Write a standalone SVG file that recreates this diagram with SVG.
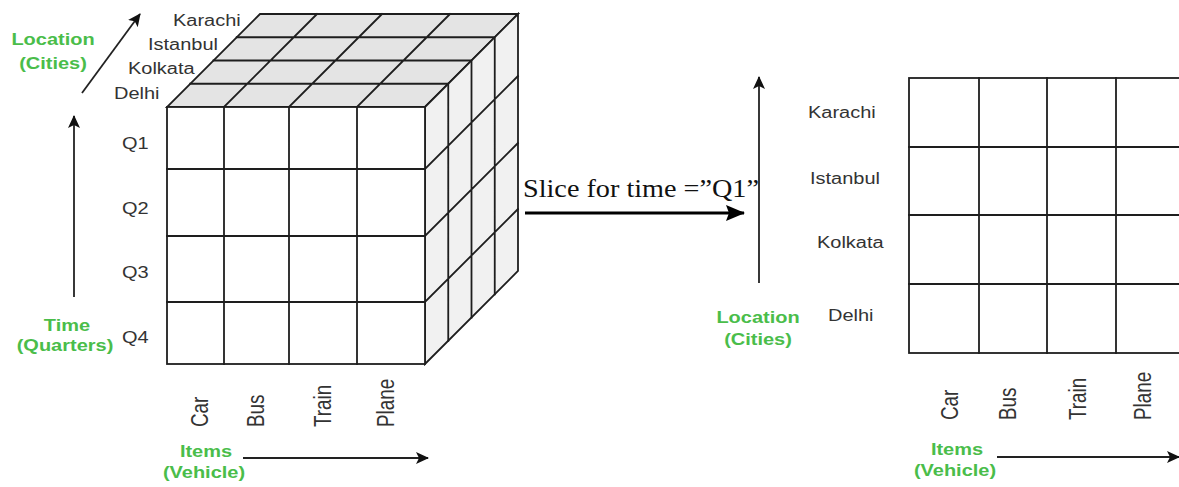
<svg xmlns="http://www.w3.org/2000/svg" width="1179" height="487" viewBox="0 0 1179 487">
<defs>
<style>
.ln{stroke:#1e1e1e;stroke-width:1.8;fill:none;stroke-linecap:square}
.top{fill:#e4e4e4;stroke:#1e1e1e;stroke-width:1.8}
.side{fill:#f1f1f1;stroke:#1e1e1e;stroke-width:1.8}
.front{fill:#ffffff;stroke:#1e1e1e;stroke-width:1.8}
.lbl{font-family:"Liberation Sans",Arial,sans-serif;font-size:20px;fill:#333333}
.rot{font-family:"Liberation Sans",Arial,sans-serif;font-size:23px;fill:#333333}
.grn{font-family:"Liberation Sans",Arial,sans-serif;font-size:20px;font-weight:bold;fill:#4abd4a;text-anchor:middle}
.ser{font-family:"Liberation Serif","Times New Roman",serif;font-size:26px;fill:#111111}
.ax{stroke:#222222;stroke-width:1.8;fill:none}
.big{stroke:#000000;stroke-width:3.2;fill:none}
</style>
<marker id="ah" markerUnits="userSpaceOnUse" markerWidth="14" markerHeight="12" refX="12" refY="6" orient="auto">
<path d="M0,0 L13,6 L0,12 L3,6 Z" fill="#111111"/>
</marker>
<marker id="ahb" markerUnits="userSpaceOnUse" markerWidth="20" markerHeight="16" refX="18" refY="8" orient="auto">
<path d="M0,0 L19,8 L0,16 L3,8 Z" fill="#000000"/>
</marker>
</defs>
<rect width="1179" height="487" fill="#ffffff"/>

<g id="cube">
<polygon class="top" points="167,107 425,107 518,14 260,14"/>
<polygon class="side" points="425,107 518,14 518,271 425,364"/>
<rect class="front" x="167" y="107" width="258" height="257"/>
<path class="ln" d="M190.25,83.75H448.25 M213.5,60.5H471.5 M236.75,37.25H494.75
M224,107L317,14 M289,107L382,14 M357,107L450,14
M448.25,83.75V340.75 M471.5,60.5V317.5 M494.75,37.25V294.25
M425,169L518,76 M425,236L518,143 M425,302L518,209
M224,107V364 M289,107V364 M357,107V364
M167,169H425 M167,236H425 M167,302H425"/>
</g>

<g id="cube-labels">
<text class="lbl" transform="translate(173,26) scale(1,0.82)">Karachi</text>
<text class="lbl" transform="translate(148,50) scale(1,0.82)">Istanbul</text>
<text class="lbl" transform="translate(128,74) scale(1,0.82)">Kolkata</text>
<text class="lbl" transform="translate(114,99) scale(1,0.82)">Delhi</text>
<text class="lbl" transform="translate(122,149) scale(1,0.82)">Q1</text>
<text class="lbl" transform="translate(122,214) scale(1,0.82)">Q2</text>
<text class="lbl" transform="translate(122,278) scale(1,0.82)">Q3</text>
<text class="lbl" transform="translate(122,343) scale(1,0.82)">Q4</text>
<text class="rot" transform="translate(208,427) scale(1,0.82) rotate(-90)">Car</text>
<text class="rot" transform="translate(264,427) scale(1,0.82) rotate(-90)">Bus</text>
<text class="rot" transform="translate(331,427) scale(1,0.82) rotate(-90)">Train</text>
<text class="rot" transform="translate(394,427) scale(1,0.82) rotate(-90)">Plane</text>
<text class="grn" transform="translate(53,45) scale(1,0.82)">Location</text>
<text class="grn" transform="translate(53,69) scale(1,0.82)">(Cities)</text>
<text class="grn" transform="translate(67,331) scale(1,0.82)">Time</text>
<text class="grn" transform="translate(65,351) scale(1,0.82)">(Quarters)</text>
<text class="grn" transform="translate(206,457) scale(1,0.82)">Items</text>
<text class="grn" transform="translate(204,478) scale(1,0.82)">(Vehicle)</text>
</g>

<g id="slice">
<rect class="front" x="909" y="78" width="276" height="275"/>
<path class="ln" d="M979,78V353 M1047,78V353 M1116,78V353 M909,147H1185 M909,215H1185 M909,284H1185"/>
</g>

<g id="slice-labels">
<text class="lbl" transform="translate(808,118) scale(1,0.82)">Karachi</text>
<text class="lbl" transform="translate(810,184) scale(1,0.82)">Istanbul</text>
<text class="lbl" transform="translate(817,248) scale(1,0.82)">Kolkata</text>
<text class="lbl" transform="translate(828,321) scale(1,0.82)">Delhi</text>
<text class="rot" transform="translate(958,420) scale(1,0.82) rotate(-90)">Car</text>
<text class="rot" transform="translate(1016,420) scale(1,0.82) rotate(-90)">Bus</text>
<text class="rot" transform="translate(1086,420) scale(1,0.82) rotate(-90)">Train</text>
<text class="rot" transform="translate(1151,420) scale(1,0.82) rotate(-90)">Plane</text>
<text class="grn" transform="translate(758,323) scale(1,0.82)">Location</text>
<text class="grn" transform="translate(758,345) scale(1,0.82)">(Cities)</text>
<text class="grn" transform="translate(957,455) scale(1,0.82)">Items</text>
<text class="grn" transform="translate(955,476) scale(1,0.82)">(Vehicle)</text>
</g>

<g id="connectors">
<line class="ax" x1="82" y1="93" x2="140" y2="14" marker-end="url(#ah)"/>
<line class="ax" x1="74" y1="297" x2="74" y2="116" marker-end="url(#ah)"/>
<line class="ax" x1="243" y1="458" x2="428" y2="458" marker-end="url(#ah)"/>
<line class="big" x1="525" y1="213" x2="744" y2="213" marker-end="url(#ahb)"/>
<line class="ax" x1="759" y1="283" x2="759" y2="77" marker-end="url(#ah)"/>
<line class="ax" x1="997" y1="457" x2="1179" y2="457" marker-end="url(#ah)"/>
<text class="ser" x="523" y="197" textLength="236" lengthAdjust="spacingAndGlyphs">Slice for time =”Q1”</text>
</g>
</svg>
